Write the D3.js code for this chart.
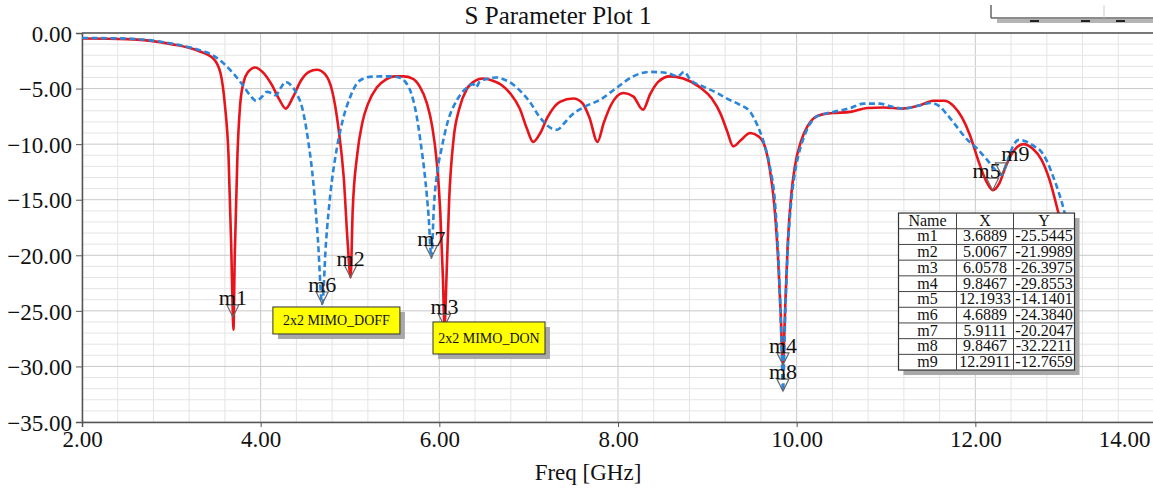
<!DOCTYPE html>
<html>
<head>
<meta charset="utf-8">
<script src="https://cdn.jsdelivr.net/npm/d3@7"></script>
<style>
  body { margin: 0; background: #fff; }
  svg text { font-family: "Liberation Serif", "Times New Roman", "DejaVu Serif", serif; fill: #111; }
</style>
</head>
<body>
<div id="chart"></div>
<script>
// red solid trace (2x2 MIMO_DON)
const redFreq = [2.0, 2.5, 3.0, 3.3, 3.47, 3.55, 3.6, 3.64, 3.67, 3.6889, 3.695, 3.71, 3.74, 3.77, 3.81, 3.86, 3.94, 4.02, 4.12, 4.21, 4.28, 4.36, 4.45, 4.54, 4.63, 4.72, 4.8, 4.87, 4.93, 4.975, 5.0067, 5.03, 5.08, 5.14, 5.2, 5.3, 5.4, 5.5, 5.6, 5.7, 5.78, 5.86, 5.92, 5.97, 6.01, 6.04, 6.0578, 6.08, 6.11, 6.16, 6.22, 6.31, 6.4, 6.49, 6.6, 6.7, 6.8, 6.9, 6.98, 7.05, 7.13, 7.21, 7.35, 7.5, 7.6, 7.68, 7.77, 7.84, 7.92, 8.06, 8.17, 8.28, 8.36, 8.45, 8.58, 8.73, 8.92, 9.05, 9.15, 9.22, 9.29, 9.38, 9.48, 9.57, 9.63, 9.7, 9.75, 9.79, 9.82, 9.8467, 9.87, 9.9, 9.94, 9.98, 10.05, 10.12, 10.2, 10.3, 10.41, 10.6, 10.79, 10.97, 11.19, 11.38, 11.53, 11.65, 11.76, 11.85, 11.94, 12.03, 12.12, 12.1933, 12.27, 12.34, 12.44, 12.54, 12.64, 12.74, 12.83, 12.93, 13.03, 13.08];
const redDb = [-0.5, -0.55, -1.0, -1.6, -2.3, -3.6, -6.5, -11, -19, -25.5445, -26.7, -20, -11, -6.5, -4.4, -3.5, -3.1, -3.5, -4.6, -6.0, -6.8, -5.8, -4.3, -3.5, -3.3, -3.7, -5.2, -8.5, -13, -19, -21.9989, -16, -11, -8.0, -6.4, -4.9, -4.2, -3.9, -3.9, -4.1, -4.8, -6.3, -8.4, -11.5, -16, -22, -26.3975, -22, -15, -9.5, -6.9, -5.0, -4.3, -4.1, -4.3, -4.7, -5.5, -6.8, -8.6, -9.8, -9.0, -7.6, -6.2, -5.9, -6.3, -7.6, -9.8, -8.1, -6.5, -5.4, -5.7, -6.9, -5.5, -4.4, -3.9, -4.1, -4.9, -5.9, -7.3, -8.8, -10.2, -9.6, -9.0, -9.3, -9.9, -12.3, -15.5, -20, -25, -29.8553, -25, -19, -14.5, -12.0, -9.7, -8.4, -7.6, -7.3, -7.2, -7.1, -6.75, -6.7, -6.8, -6.5, -6.1, -6.1, -6.6, -7.6, -9.2, -11.4, -13.3, -14.1401, -13.5, -12.0, -10.5, -10.0, -10.4, -11.4, -13.2, -16.2, -19.5, -22];

// blue dashed trace (2x2 MIMO_DOFF)
const blueFreq = [2.0, 2.5, 3.0, 3.3, 3.43, 3.58, 3.69, 3.8, 3.88, 3.95, 4.02, 4.07, 4.12, 4.17, 4.22, 4.28, 4.34, 4.4, 4.47, 4.53, 4.59, 4.64, 4.6889, 4.73, 4.78, 4.85, 4.92, 5.0, 5.08, 5.15, 5.22, 5.35, 5.45, 5.55, 5.62, 5.68, 5.74, 5.79, 5.84, 5.88, 5.9111, 5.94, 5.98, 6.02, 6.09, 6.2, 6.31, 6.38, 6.41, 6.45, 6.55, 6.64, 6.73, 6.82, 6.94, 7.03, 7.1, 7.18, 7.26, 7.32, 7.4, 7.48, 7.61, 7.8, 7.99, 8.17, 8.36, 8.55, 8.67, 8.74, 8.81, 8.95, 9.11, 9.22, 9.35, 9.48, 9.56, 9.63, 9.7, 9.76, 9.8, 9.83, 9.8467, 9.87, 9.9, 9.93, 9.98, 10.02, 10.08, 10.14, 10.21, 10.3, 10.41, 10.6, 10.75, 10.93, 11.05, 11.19, 11.38, 11.5, 11.6, 11.68, 11.76, 11.91, 12.02, 12.13, 12.22, 12.2911, 12.36, 12.42, 12.49, 12.58, 12.66, 12.73, 12.8, 12.87, 12.94, 13.0, 13.07];
const blueDb = [-0.45, -0.5, -0.95, -1.5, -1.85, -2.7, -3.6, -4.7, -5.6, -6.1, -5.7, -5.3, -5.4, -5.6, -5.0, -4.4, -4.7, -5.4, -6.9, -9.6, -13.5, -18.5, -24.384, -19, -14.5, -10.5, -7.8, -5.8, -4.5, -4.1, -3.95, -3.9, -3.9, -4.0, -4.4, -5.3, -7.2, -9.8, -13.0, -16.5, -20.2047, -15.5, -12.3, -10.6, -8.1, -6.0, -4.9, -4.6, -4.9, -4.4, -4.1, -4.0, -4.2, -4.6, -5.5, -6.4, -7.3, -8.1, -8.6, -8.7, -8.1, -7.4, -6.7, -6.0, -4.9, -3.9, -3.5, -3.6, -3.9, -3.5, -4.2, -4.8, -5.4, -5.9, -6.4, -7.1, -8.3, -9.8, -12.0, -15.5, -21, -28, -32.2211, -26, -19.5, -16.0, -12.6, -11.0, -9.4, -8.3, -7.6, -7.3, -7.1, -6.75, -6.35, -6.35, -6.6, -6.8, -6.5, -6.3, -6.6, -7.3, -8.1, -9.6, -10.4, -11.4, -12.3, -12.7659, -11.5, -10.2, -9.6, -9.8, -10.2, -10.6, -11.5, -12.9, -14.5, -16.2, -19];

// markers
const markerNames = ["m1", "m2", "m3", "m4", "m5", "m6", "m7", "m8", "m9"];
const markerX = [3.6889, 5.0067, 6.0578, 9.8467, 12.1933, 4.6889, 5.9111, 9.8467, 12.2911];
const markerY = [-25.5445, -21.9989, -26.3975, -29.8553, -14.1401, -24.384, -20.2047, -32.2211, -12.7659];

// axes
const xTicks = [2, 4, 6, 8, 10, 12, 14];
const yTicks = [0, -5, -10, -15, -20, -25, -30, -35];

// trace labels: text, anchor freq, anchor dB (top-left corner)
const noteText = ["2x2 MIMO_DOFF", "2x2 MIMO_DON"];
const noteFreq = [4.137, 5.929];
const noteDb = [-24.65, -26.0];

const width = 1153;
const height = 493;
const margin = { top: 33, right: -1, bottom: 71, left: 82 };

const svg = d3.select("#chart").append("svg")
  .attr("width", width)
  .attr("height", height);

svg.append("rect").attr("width", width).attr("height", height).attr("fill", "#fff");

const x = d3.scaleLinear().domain([2, 14]).range([margin.left, width - margin.right]);
const y = d3.scaleLinear().domain([-35, 0]).range([height - margin.bottom, margin.top]);

// grid
const grid = svg.append("g").attr("class", "grid");
const minorX = d3.range(2, 14.001, 0.4);
const minorY = d3.range(-35, 0.001, 1);

grid.selectAll(".vx").data(minorX).join("line")
  .attr("x1", (d) => x(d)).attr("x2", (d) => x(d))
  .attr("y1", y(0)).attr("y2", y(-35))
  .attr("stroke", (d) => (Math.abs(d % 2) < 0.01 || Math.abs(d % 2 - 2) < 0.01) ? "#c9c9c9" : "#e4e4e4")
  .attr("stroke-width", 1);

grid.selectAll(".hy").data(minorY).join("line")
  .attr("x1", x(2)).attr("x2", width)
  .attr("y1", (d) => y(d)).attr("y2", (d) => y(d))
  .attr("stroke", (d) => d % 5 === 0 ? "#c9c9c9" : "#e4e4e4")
  .attr("stroke-width", 1);

// top border
svg.append("line")
  .attr("x1", x(2)).attr("x2", width)
  .attr("y1", y(0)).attr("y2", y(0))
  .attr("stroke", "#555").attr("stroke-width", 1.5);

// axes
const xAxis = d3.axisBottom(x).tickValues(xTicks).tickFormat(d3.format(".2f")).tickSize(5).tickPadding(4);
const xMinor = d3.axisBottom(x).tickValues(minorX).tickFormat("").tickSizeInner(-5).tickSizeOuter(0);
const yAxis = d3.axisLeft(y).tickValues(yTicks).tickFormat(d3.format(".2f")).tickSize(6).tickPadding(4);
const yMinor = d3.axisLeft(y).tickValues(minorY).tickFormat("").tickSizeInner(5).tickSizeOuter(0);

const gx = svg.append("g").attr("transform", `translate(0,${y(-35)})`);
gx.call(xMinor);
gx.call(xAxis);
gx.selectAll("path.domain").attr("stroke", "#555").attr("stroke-width", 1.5);
gx.selectAll(".tick line").attr("stroke", "#555");
gx.selectAll("text").attr("font-size", 23).attr("fill", "#111");
// last label sits against the cropped right edge
gx.selectAll(".tick text").filter((d) => d === 14).attr("text-anchor", "end").attr("x", width - 3 - x(14));

const gy = svg.append("g").attr("transform", `translate(${x(2)},0)`);
gy.call(yMinor);
gy.call(yAxis);
gy.selectAll("path.domain").attr("stroke", "#555").attr("stroke-width", 1.5);
gy.selectAll(".tick line").attr("stroke", "#555");
gy.selectAll("text").attr("font-size", 23).attr("fill", "#111").attr("dy", "0.36em");

// title + axis label
svg.append("text").attr("x", 558).attr("y", 24)
  .attr("text-anchor", "middle").attr("font-size", 25)
  .text("S Parameter Plot 1");

svg.append("text").attr("x", 588).attr("y", 480)
  .attr("text-anchor", "middle").attr("font-size", 23)
  .text("Freq [GHz]");

// legend fragment at the top right (cut off in the source image)
const legend = svg.append("g");
legend.append("rect").attr("x", 997).attr("y", 19).attr("width", 160).attr("height", 4).attr("fill", "#b5b5b5");
legend.append("line").attr("x1", 991).attr("x2", 991).attr("y1", 5).attr("y2", 18).attr("stroke", "#666").attr("stroke-width", 1.5);
legend.append("line").attr("x1", 991).attr("x2", width).attr("y1", 18).attr("y2", 18).attr("stroke", "#666").attr("stroke-width", 1.5);
legend.append("line").attr("x1", 1104).attr("x2", 1104).attr("y1", 5).attr("y2", 18).attr("stroke", "#ccc");
[1030, 1081, 1116].forEach((lx) => {
  legend.append("rect").attr("x", lx).attr("y", 20).attr("width", 9).attr("height", 2).attr("fill", "#222");
});

// traces
svg.append("clipPath").attr("id", "plotClip").append("rect")
  .attr("x", x(2)).attr("y", y(0)).attr("width", width - x(2)).attr("height", y(-35) - y(0));

const line = d3.line()
  .curve(d3.curveMonotoneX)
  .x((d) => x(d[0]))
  .y((d) => y(d[1]));

const redData = redFreq.map((f, i) => [f, redDb[i]]);
const blueData = blueFreq.map((f, i) => [f, blueDb[i]]);

const traces = svg.append("g").attr("clip-path", "url(#plotClip)");
traces.append("path").datum(redData)
  .attr("fill", "none").attr("stroke", "#e8141c").attr("stroke-width", 2.6)
  .attr("d", line);
traces.append("path").datum(blueData)
  .attr("fill", "none").attr("stroke", "#2b86da").attr("stroke-width", 2.6)
  .attr("stroke-dasharray", "6,3.5")
  .attr("d", line);

// marker triangles and names
const markers = svg.append("g");
markerNames.forEach((name, i) => {
  const px = x(markerX[i]);
  const py = y(markerY[i]);
  markers.append("path")
    .attr("d", `M${px - 6},${py - 12}L${px + 6},${py - 12}L${px},${py}Z`)
    .attr("fill", "none").attr("stroke", "#666").attr("stroke-width", 1.2);
  // m9 sits right above m5, push the two names apart so they do not collide
  const dx = name === "m9" ? 14 : (name === "m5" ? -6 : 0);
  const dy = name === "m9" ? -2 : 0;
  markers.append("text")
    .attr("x", px + dx).attr("y", py - 12 + dy)
    .attr("text-anchor", "middle").attr("font-size", 22)
    .text(name);
});

// yellow trace labels
noteText.forEach((t, i) => {
  const nx = x(noteFreq[i]);
  const ny = y(noteDb[i]);
  const w = i === 0 ? 127 : 112;
  const h = i === 0 ? 27 : 32;
  svg.append("rect").attr("x", nx + 5).attr("y", ny + 5).attr("width", w).attr("height", h).attr("fill", "#a8a8a8");
  svg.append("rect").attr("x", nx).attr("y", ny).attr("width", w).attr("height", h)
    .attr("fill", "#ffff00").attr("stroke", "#333").attr("stroke-width", 1);
  svg.append("text").attr("x", nx + w / 2).attr("y", ny + h / 2 + 5)
    .attr("text-anchor", "middle").attr("font-size", 14)
    .text(t);
});

// marker table
const tableX = x(11.14);
const tableY = y(-16.2);
const colW = [58, 57, 61];
const rowH = 15.7;
const tableRows = [["Name", "X", "Y"]].concat(
  markerNames.map((n, i) => [n, markerX[i].toFixed(4), markerY[i].toFixed(4)])
);
const tableW = d3.sum(colW);
const tableH = rowH * tableRows.length;

const table = svg.append("g");
table.append("rect").attr("x", tableX + 5).attr("y", tableY + 5).attr("width", tableW).attr("height", tableH).attr("fill", "#a8a8a8");
table.append("rect").attr("x", tableX).attr("y", tableY).attr("width", tableW).attr("height", tableH)
  .attr("fill", "#fff").attr("stroke", "#333").attr("stroke-width", 1.2);

tableRows.forEach((row, r) => {
  if (r > 0) {
    table.append("line")
      .attr("x1", tableX).attr("x2", tableX + tableW)
      .attr("y1", tableY + r * rowH).attr("y2", tableY + r * rowH)
      .attr("stroke", "#444").attr("stroke-width", 1);
  }
  let cx = tableX;
  row.forEach((cell, c) => {
    table.append("text")
      .attr("x", cx + colW[c] / 2).attr("y", tableY + r * rowH + rowH - 3)
      .attr("text-anchor", "middle").attr("font-size", 16)
      .text(cell);
    cx += colW[c];
  });
});
let colX = tableX;
colW.slice(0, 2).forEach((w) => {
  colX += w;
  table.append("line")
    .attr("x1", colX).attr("x2", colX)
    .attr("y1", tableY).attr("y2", tableY + tableH)
    .attr("stroke", "#444").attr("stroke-width", 1);
});
</script>
</body>
</html>
